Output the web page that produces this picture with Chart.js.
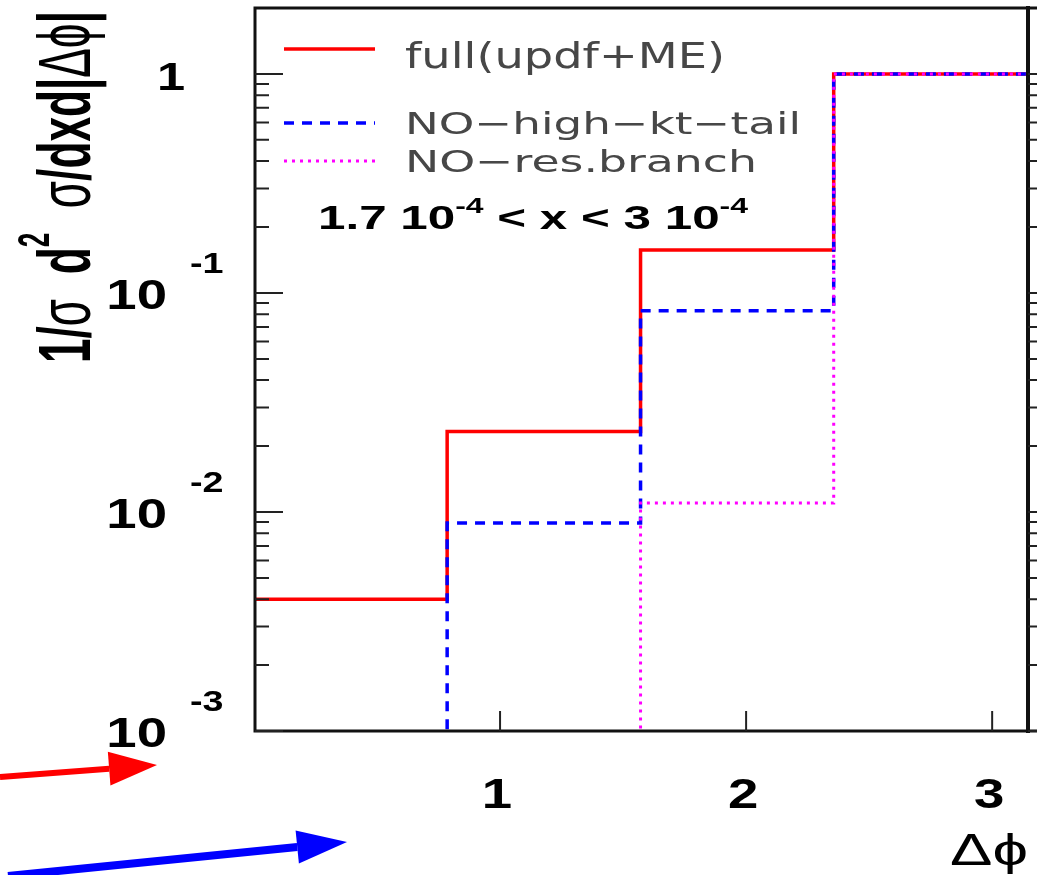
<!DOCTYPE html>
<html>
<head>
<meta charset="utf-8">
<script src="https://cdn.jsdelivr.net/npm/chart.js@4.4.1/dist/chart.umd.min.js"></script>
<style>
  html, body { margin: 0; padding: 0; background: #fff; }
  canvas { display: block; }
</style>
</head>
<body>
<canvas id="chart" width="1037" height="875"></canvas>
<script>
// delta-phi bins: 0..pi in 4 bins
const binEdges = [0, 0.785, 1.571, 2.356, 3.1416];
const seriesNames = ['full(updf+ME)', 'NO\u2212high\u2212kt\u2212tail', 'NO\u2212res.branch'];
// normalised cross section per bin
const fullValues = [0.0040, 0.0233, 0.157, 1.0];
const noHighKtValues = [0.0001, 0.0089, 0.083, 1.0];   // first bin is off the bottom of the axis
const noResValues = [0.0001, 0.0001, 0.011, 1.0];      // first two bins off the bottom
const xTicks = [1, 2, 3];
const yDecades = [1, 0.1, 0.01, 0.001];
const yTickLabels = [['1', ''], ['10', '-1'], ['10', '-2'], ['10', '-3']];
const xRange = [0, 3.1416];
const yRange = [0.001, 2];

const SANS = 'Liberation Sans, Arial, sans-serif';
const LEG = 'DejaVu Sans, sans-serif';

// histogram -> points at the left edge of each bin plus the closing right edge
function histPoints(vals) {
  const pts = vals.map((v, i) => ({x: binEdges[i], y: v}));
  pts.push({x: binEdges[vals.length], y: vals[vals.length - 1]});
  return pts;
}

// draw a run of text pieces on one baseline, optionally rotated / stretched
function drawPieces(ctx, pieces, x, y, o) {
  ctx.save();
  ctx.translate(x, y);
  if (o.rotate) ctx.rotate(o.rotate);
  let total = 0;
  pieces.forEach(p => { ctx.font = p.font; p.w = ctx.measureText(p.t).width; total += p.w; });
  const sx = o.width ? o.width / total : (o.sx || 1);
  ctx.scale(sx, o.sy || 1);
  let cx = o.align === 'center' ? -total / 2 : (o.align === 'right' ? -total : 0);
  ctx.fillStyle = o.color || '#000';
  ctx.textBaseline = 'alphabetic';
  ctx.textAlign = 'left';
  pieces.forEach(p => { ctx.font = p.font; ctx.fillText(p.t, cx, p.dy || 0); cx += p.w; });
  ctx.restore();
}

function arrow(ctx, x0, y0, x1, y1, color, lw, headLen, headW) {
  const a = Math.atan2(y1 - y0, x1 - x0);
  const bx = x1 - headLen * Math.cos(a), by = y1 - headLen * Math.sin(a);
  ctx.save();
  ctx.strokeStyle = color; ctx.fillStyle = color; ctx.lineWidth = lw;
  ctx.beginPath(); ctx.moveTo(x0, y0); ctx.lineTo(bx, by); ctx.stroke();
  ctx.beginPath();
  ctx.moveTo(x1, y1);
  ctx.lineTo(bx + headW / 2 * Math.sin(a), by - headW / 2 * Math.cos(a));
  ctx.lineTo(bx - headW / 2 * Math.sin(a), by + headW / 2 * Math.cos(a));
  ctx.closePath(); ctx.fill();
  ctx.restore();
}

const decorations = {
  id: 'decorations',
  afterDraw(chart) {
    const ctx = chart.ctx;
    const xs = chart.scales.x, ys = chart.scales.y;
    const L = 255, R = 1028, T = 8, B = 731, W = chart.width;

    // frame (top and bottom run on into the next panel)
    ctx.save();
    ctx.strokeStyle = '#111';
    ctx.lineWidth = 3;
    ctx.beginPath();
    ctx.moveTo(W, T); ctx.lineTo(L, T); ctx.lineTo(L, B); ctx.lineTo(W, B);
    ctx.stroke();
    ctx.lineWidth = 4;
    ctx.beginPath(); ctx.moveTo(R, T - 2); ctx.lineTo(R, B + 2); ctx.stroke();

    // log ticks on the left axis (and the neighbouring panel's axis on the right)
    ctx.lineWidth = 2;
    ctx.strokeStyle = '#222';
    for (let k = -3; k <= 0; k++) {
      for (let m = 1; m <= 9; m++) {
        const v = m * Math.pow(10, k);
        if (v < yRange[0] || v >= yRange[1]) continue;
        const py = ys.getPixelForValue(v);
        const len = m === 1 ? 28 : 14;
        ctx.beginPath();
        ctx.moveTo(L, py); ctx.lineTo(L + len, py);
        ctx.moveTo(R, py); ctx.lineTo(R + len, py);
        ctx.stroke();
      }
    }
    xTicks.forEach(t => {
      const px = xs.getPixelForValue(t);
      ctx.beginPath(); ctx.moveTo(px, B); ctx.lineTo(px, B - 20); ctx.stroke();
    });
    ctx.restore();

    // y tick labels
    yDecades.forEach((v, i) => {
      const py = ys.getPixelForValue(v);
      const [base, exp] = yTickLabels[i];
      if (!exp) {
        drawPieces(ctx, [{t: base, font: 'bold 38px ' + SANS}], 171, py + 16, {align: 'center', sx: 1.33});
      } else {
        drawPieces(ctx, [{t: base, font: 'bold 42px ' + SANS}], 167, py + 16, {align: 'right', sx: 1.3});
        drawPieces(ctx, [{t: exp, font: 'bold 29px ' + SANS}], 190, py - 20, {sx: 1.3});
      }
    });

    // x tick labels
    xTicks.forEach(t => {
      const px = xs.getPixelForValue(t);
      drawPieces(ctx, [{t: String(t), font: 'bold 42px ' + SANS}], px - 3, 808, {align: 'center', sx: 1.3});
    });

    // axis titles
    drawPieces(ctx, [{t: '\u0394\u03d5', font: '44px ' + SANS}], 950, 865, {width: 78});
    const bold = 'bold 44px ' + SANS, reg = '44px ' + SANS;
    drawPieces(ctx, [
      {t: '1/', font: bold},
      {t: '\u03c3', font: reg},
      {t: '  d', font: bold},
      {t: '2', font: 'bold 26px ' + SANS, dy: -24},
      {t: '  \u03c3', font: reg},
      {t: '/dxd|', font: bold},
      {t: '\u0394\u03d5', font: reg},
      {t: '|', font: bold}
    ], 90, 363, {rotate: -Math.PI / 2, width: 352, sy: 1.7});

    // legend
    const legendRows = [{y: 49, base: 68, w: 320, size: 35}, {y: 123, base: 134, w: 396, size: 31}, {y: 161, base: 172, w: 352, size: 31}];
    chart.data.datasets.forEach((ds, i) => {
      const row = legendRows[i];
      ctx.save();
      ctx.strokeStyle = ds.borderColor;
      ctx.lineWidth = ds.borderWidth;
      ctx.setLineDash(ds.legendDash || []);
      ctx.beginPath(); ctx.moveTo(284, row.y); ctx.lineTo(375, row.y); ctx.stroke();
      ctx.restore();
      drawPieces(ctx, [{t: ds.label, font: row.size + 'px ' + LEG}], 405, row.base, {width: row.w, color: '#474747'});
    });

    // x range annotation
    const ab = 'bold 34px ' + SANS, as = 'bold 22px ' + SANS;
    drawPieces(ctx, [
      {t: '1.7 10', font: ab}, {t: '-4', font: as, dy: -16},
      {t: ' < x < 3 10', font: ab}, {t: '-4', font: as, dy: -16}
    ], 318, 229, {width: 430});

    // pointer arrows
    arrow(ctx, 0, 777, 157, 765, '#ff0000', 6, 48, 34);
    arrow(ctx, 8, 876, 347, 842, '#0000ff', 8, 50, 33);
  }
};

new Chart(document.getElementById('chart'), {
  type: 'line',
  data: {
    datasets: [
      {
        label: seriesNames[0], data: histPoints(fullValues),
        borderColor: '#ff0000', borderWidth: 3.5, order: 3, legendDash: []
      },
      {
        label: seriesNames[1], data: histPoints(noHighKtValues),
        borderColor: '#0000ff', borderWidth: 3.5, borderDash: [10, 8], order: 2, legendDash: [10, 8]
      },
      {
        label: seriesNames[2], data: histPoints(noResValues),
        borderColor: '#ff00ff', borderWidth: 3, borderDash: [3, 5], order: 1, legendDash: [3, 5]
      }
    ].map(ds => Object.assign(ds, {
      stepped: 'before', pointRadius: 0, fill: false, tension: 0,
      borderCapStyle: 'butt', borderJoinStyle: 'miter'
    }))
  },
  options: {
    responsive: false,
    animation: false,
    devicePixelRatio: 1,
    layout: {padding: {left: 254, right: 10, top: 8, bottom: 144}},
    plugins: {legend: {display: false}, tooltip: {enabled: false}},
    scales: {
      x: {type: 'linear', min: xRange[0], max: xRange[1], display: false},
      y: {type: 'logarithmic', min: yRange[0], max: yRange[1], display: false}
    }
  },
  plugins: [decorations]
});
</script>
</body>
</html>
